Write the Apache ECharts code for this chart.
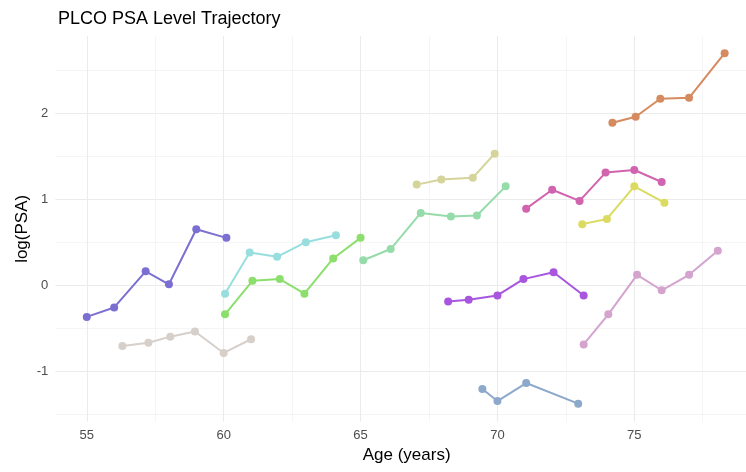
<!DOCTYPE html>
<html>
<head>
<meta charset="utf-8">
<script src="https://cdn.jsdelivr.net/npm/echarts@6/dist/echarts.min.js"></script>
<style>
html,body{margin:0;padding:0;background:#fff;}
#chart{width:746px;height:472px;}
</style>
</head>
<body>
<div id="chart"></div>
<script>
// ---- data (age in years, log(PSA)) ----
const ageA = [55.0, 56.0, 57.15, 58.0, 59.0, 60.1];
const psaA = [-0.37, -0.26, 0.16, 0.01, 0.65, 0.55];
const ageB = [56.3, 57.25, 58.05, 58.95, 60.0, 61.0];
const psaB = [-0.71, -0.67, -0.60, -0.54, -0.79, -0.63];
const ageC = [60.05, 60.95, 61.95, 63.0, 64.1];
const psaC = [-0.10, 0.38, 0.33, 0.50, 0.58];
const ageD = [60.05, 61.05, 62.05, 62.95, 64.0, 65.0];
const psaD = [-0.34, 0.05, 0.07, -0.10, 0.31, 0.55];
const ageE = [65.1, 66.1, 67.2, 68.3, 69.25, 70.3];
const psaE = [0.29, 0.42, 0.84, 0.80, 0.81, 1.15];
const ageF = [67.05, 67.95, 69.1, 69.9];
const psaF = [1.17, 1.23, 1.25, 1.53];
const ageG = [68.2, 68.95, 70.0, 70.95, 72.05, 73.15];
const psaG = [-0.19, -0.17, -0.12, 0.07, 0.15, -0.12];
const ageH = [69.45, 70.0, 71.05, 72.95];
const psaH = [-1.21, -1.35, -1.14, -1.38];
const ageI = [71.05, 72.0, 73.0, 73.95, 75.0, 76.0];
const psaI = [0.89, 1.11, 0.98, 1.31, 1.34, 1.20];
const ageJ = [73.1, 74.0, 75.0, 76.1];
const psaJ = [0.71, 0.77, 1.15, 0.96];
const ageK = [73.15, 74.05, 75.1, 76.0, 77.0, 78.05];
const psaK = [-0.69, -0.34, 0.12, -0.06, 0.12, 0.40];
const ageL = [74.2, 75.05, 75.95, 77.0, 78.3];
const psaL = [1.89, 1.96, 2.17, 2.18, 2.70];

const subjects = [
  {age: ageA, psa: psaA, color: '#7B70D1'},
  {age: ageB, psa: psaB, color: '#D6CFCA'},
  {age: ageC, psa: psaC, color: '#98DEDE'},
  {age: ageD, psa: psaD, color: '#8DDF6D'},
  {age: ageE, psa: psaE, color: '#96DBAA'},
  {age: ageF, psa: psaF, color: '#D4D49B'},
  {age: ageG, psa: psaG, color: '#A856DF'},
  {age: ageH, psa: psaH, color: '#8CA9CC'},
  {age: ageI, psa: psaI, color: '#D163AF'},
  {age: ageJ, psa: psaJ, color: '#DBDB62'},
  {age: ageK, psa: psaK, color: '#D4A4CF'},
  {age: ageL, psa: psaL, color: '#D58B5F'}
];

const xMajor = [55, 60, 65, 70, 75];
const xMinor = [57.5, 62.5, 67.5, 72.5, 77.5];
const yMajor = [-1, 0, 1, 2];
const yMinor = [-1.5, -0.5, 0.5, 1.5, 2.5];

const X_MIN = 53.85, X_MAX = 79.08;
const Y_MIN = -1.59, Y_MAX = 2.90;

const chart = echarts.init(document.getElementById('chart'), null, {renderer: 'canvas'});

const series = subjects.map(s => ({
  type: 'line',
  xAxisIndex: 0,
  yAxisIndex: 0,
  data: s.age.map((a, i) => [a, s.psa[i]]),
  symbol: 'circle',
  symbolSize: 8,
  showSymbol: true,
  lineStyle: {color: s.color, width: 2},
  itemStyle: {color: s.color, borderWidth: 0},
  emphasis: {disabled: true},
  animation: false,
  z: 5
}));

const option = {
  backgroundColor: '#ffffff',
  animation: false,
  title: {
    text: 'PLCO PSA Level Trajectory',
    left: 53,
    top: 5,
    textStyle: {fontFamily: 'Liberation Sans', fontSize: 18, fontWeight: 'normal', color: '#000000'}
  },
  grid: {left: 55.3, right: 0, top: 36, bottom: 50.3, containLabel: false},
  xAxis: [
    {
      type: 'value', min: X_MIN, max: X_MAX, position: 'bottom',
      name: 'Age (years)', nameLocation: 'middle', nameGap: 25, nameMoveOverlap: false,
      nameTextStyle: {fontFamily: 'Liberation Sans', fontSize: 17, color: '#000000', padding: [0, 0, 0, 12]},
      axisLine: {show: false},
      axisTick: {show: false, customValues: xMajor},
      axisLabel: {customValues: xMajor, margin: 7, fontFamily: 'Liberation Sans', fontSize: 13, color: '#4D4D4D'},
      splitLine: {show: true, lineStyle: {color: '#EBEBEB', width: 1.1}}
    },
    {
      type: 'value', min: X_MIN, max: X_MAX, position: 'bottom',
      axisLine: {show: false},
      axisTick: {show: false, customValues: xMinor},
      axisLabel: {show: false, customValues: xMinor},
      splitLine: {show: true, lineStyle: {color: '#F1F1F1', width: 0.7}}
    }
  ],
  yAxis: [
    {
      type: 'value', min: Y_MIN, max: Y_MAX, position: 'left',
      name: 'log(PSA)', nameLocation: 'middle', nameGap: 24, nameRotate: 90, nameMoveOverlap: false,
      nameTextStyle: {fontFamily: 'Liberation Sans', fontSize: 17, color: '#000000'},
      axisLine: {show: false},
      axisTick: {show: false, customValues: yMajor},
      axisLabel: {customValues: yMajor, margin: 7, fontFamily: 'Liberation Sans', fontSize: 13, color: '#4D4D4D'},
      splitLine: {show: true, lineStyle: {color: '#EBEBEB', width: 1.1}}
    },
    {
      type: 'value', min: Y_MIN, max: Y_MAX, position: 'left',
      axisLine: {show: false},
      axisTick: {show: false, customValues: yMinor},
      axisLabel: {show: false, customValues: yMinor},
      splitLine: {show: true, lineStyle: {color: '#F1F1F1', width: 0.7}}
    }
  ],
  series: series
};

chart.setOption(option);
</script>
</body>
</html>
